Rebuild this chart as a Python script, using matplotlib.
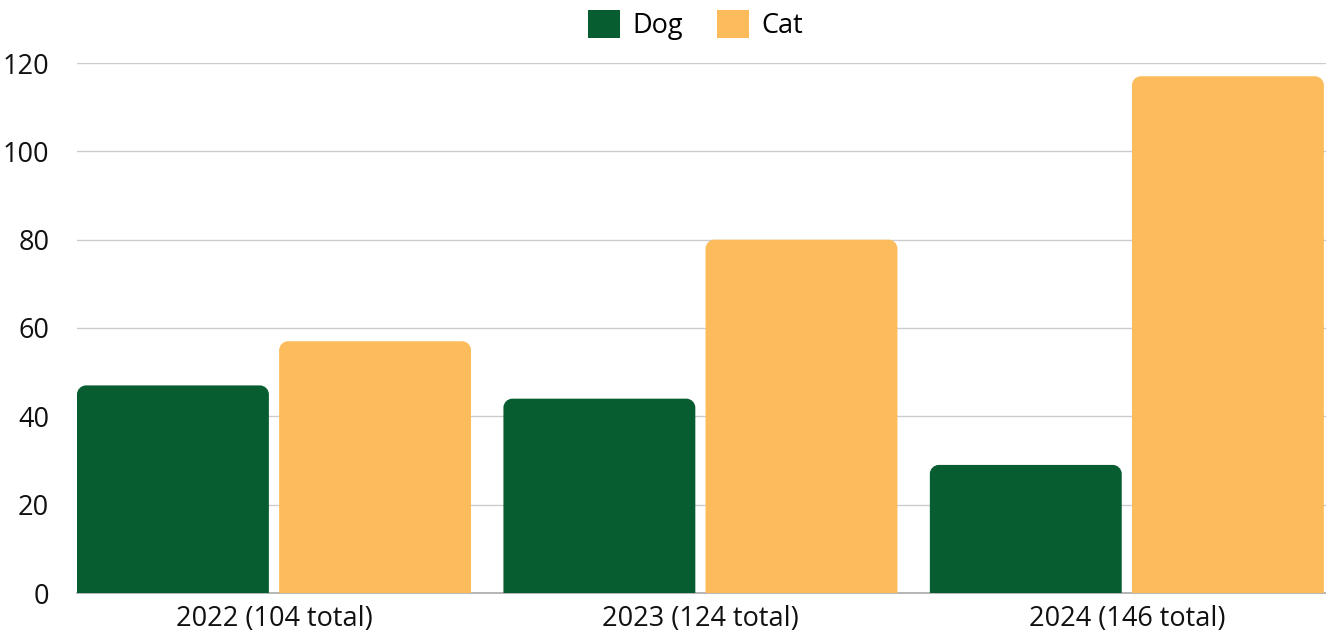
import matplotlib
matplotlib.use("Agg")
import matplotlib.pyplot as plt
import numpy as np
from matplotlib.patches import Patch, PathPatch
from matplotlib.path import Path

categories = ["2022 (104 total)", "2023 (124 total)", "2024 (146 total)"]
dog = [47, 44, 29]
cat = [57, 80, 117]
series_names = ["Dog", "Cat"]
colors = ["#075C30", "#FDBC5B"]
yticks = [0, 20, 40, 60, 80, 100, 120]

plt.rcParams['font.family'] = ['Open Sans', 'DejaVu Sans']

W, H = 1326, 635
fig = plt.figure(figsize=(W / 100, H / 100), dpi=100)
ax = fig.add_axes([77 / W, (H - 593) / H, (1326 - 77) / W, (593 - 63) / H])

x = np.arange(len(categories))
width = 0.45
off = 0.237
bars_d = ax.bar(x - off, dog, width, color=colors[0], zorder=3)
bars_c = ax.bar(x + off, cat, width, color=colors[1], zorder=3)

ax.set_xlim(-0.462, 2.467)
ax.set_ylim(0, 120)
fig.canvas.draw()

# rounded top corners
radius_px = 9
inv = ax.transData.inverted()
for bars in (bars_d, bars_c):
    for b in bars:
        x0, y0 = b.get_x(), b.get_y()
        w, h = b.get_width(), b.get_height()
        p0 = ax.transData.transform((x0, y0))
        p1 = ax.transData.transform((x0 + w, y0 + h))
        rx = radius_px
        k = 0.5523 * rx
        X0, Y0 = p0
        X1, Y1 = p1
        verts = [
            (X0, Y0), (X0, Y1 - rx),
            (X0, Y1 - rx + k), (X0 + rx - k, Y1), (X0 + rx, Y1),
            (X1 - rx, Y1),
            (X1 - rx + k, Y1), (X1, Y1 - rx + k), (X1, Y1 - rx),
            (X1, Y0), (X0, Y0),
        ]
        codes = [Path.MOVETO, Path.LINETO,
                 Path.CURVE4, Path.CURVE4, Path.CURVE4,
                 Path.LINETO,
                 Path.CURVE4, Path.CURVE4, Path.CURVE4,
                 Path.LINETO, Path.CLOSEPOLY]
        dverts = inv.transform(verts)
        patch = PathPatch(Path(dverts, codes), facecolor=b.get_facecolor(),
                          edgecolor='none', zorder=3)
        ax.add_patch(patch)
        b.set_visible(False)

ax.set_yticks(yticks)
ax.set_xticks(x)
ax.set_xticklabels(categories)
ax.tick_params(axis='both', length=0, labelsize=19.5, colors='#111111')
ax.tick_params(axis='y', pad=20)
ax.tick_params(axis='x', pad=9)
ax.grid(axis='y', color='#cccccc', linewidth=1, zorder=0)
ax.set_axisbelow(True)
for s in ['top', 'right', 'left']:
    ax.spines[s].set_visible(False)
ax.spines['bottom'].set_color('#aaaaaa')
ax.spines['bottom'].set_linewidth(1.2)

handles = [Patch(facecolor=c, edgecolor='none') for c in colors]
fig.legend(handles, series_names, loc='center', bbox_to_anchor=(0.5245, 1 - 25 / H),
           ncol=2, frameon=False, fontsize=19.5, handlelength=1.2, handleheight=1.2,
           handletextpad=0.45, columnspacing=1.25)

fig.savefig("out.png", dpi=100, facecolor='white')
